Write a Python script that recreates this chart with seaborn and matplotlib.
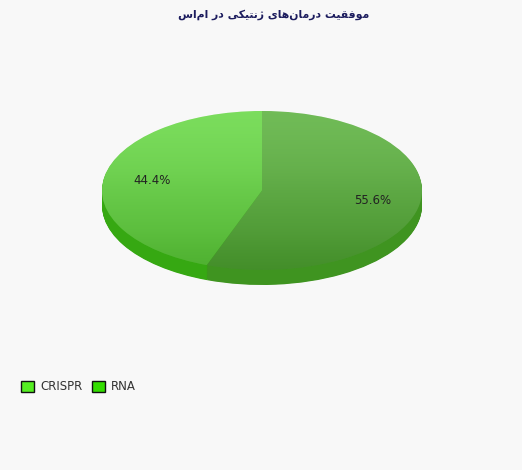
import numpy as np
import pandas as pd
import seaborn as sns
import matplotlib
matplotlib.use("Agg")
import matplotlib.pyplot as plt
from matplotlib.patches import Patch

# chart data
title = "موفقیت درمان‌های ژنتیکی در ام‌اس"
categories = ["RNA", "CRISPR"]
shares = [55.6, 44.4]
legend_order = ["CRISPR", "RNA"]

top_colors = {"RNA": "#52ad33", "CRISPR": "#5fd63a"}
side_colors = {"RNA": "#3f9420", "CRISPR": "#36a812"}
legend_colors = {"CRISPR": "#55ee22", "RNA": "#33dd00"}

df = pd.DataFrame({"category": categories, "share": shares})

# matplotlib has no arabic shaping, so pick presentation forms by hand
# (iso, fin, init, med); None = letter only joins to the right
FORMS = {
    "ا": ("\uFE8D", "\uFE8E", None, None),
    "ت": ("\uFE95", "\uFE96", "\uFE97", "\uFE98"),
    "د": ("\uFEA9", "\uFEAA", None, None),
    "ر": ("\uFEAD", "\uFEAE", None, None),
    "ژ": ("\uFB8A", "\uFB8B", None, None),
    "س": ("\uFEB1", "\uFEB2", "\uFEB3", "\uFEB4"),
    "ف": ("\uFED1", "\uFED2", "\uFED3", "\uFED4"),
    "ق": ("\uFED5", "\uFED6", "\uFED7", "\uFED8"),
    "ک": ("\uFB8E", "\uFB8F", "\uFB90", "\uFB91"),
    "م": ("\uFEE1", "\uFEE2", "\uFEE3", "\uFEE4"),
    "ن": ("\uFEE5", "\uFEE6", "\uFEE7", "\uFEE8"),
    "ه": ("\uFEE9", "\uFEEA", "\uFEEB", "\uFEEC"),
    "و": ("\uFEED", "\uFEEE", None, None),
    "ی": ("\uFBFC", "\uFBFD", "\uFBFE", "\uFBFF"),
}


def shape_rtl(text):
    out = []
    for i, ch in enumerate(text):
        if ch not in FORMS:
            if ch != "\u200c":
                out.append(ch)
            continue
        prev = text[i - 1] if i > 0 else ""
        nxt = text[i + 1] if i + 1 < len(text) else ""
        joins_prev = prev in FORMS and FORMS[prev][2] is not None
        joins_next = FORMS[ch][2] is not None and nxt in FORMS
        iso, fin, ini, med = FORMS[ch]
        if joins_prev and joins_next:
            out.append(med)
        elif joins_prev:
            out.append(fin)
        elif joins_next:
            out.append(ini)
        else:
            out.append(iso)
    return "".join(out[::-1])


sns.set_theme(style="white")
plt.rcParams["font.family"] = ["DejaVu Sans"]

bg = "#f8f8f8"
fig = plt.figure(figsize=(5.22, 4.70), dpi=100, facecolor=bg)

# pixel box of the pie (top face + side)
left_px, right_px, top_px, face_bottom_px, bottom_px = 102, 422, 111, 270, 285
W, H = 522, 470
ax = fig.add_axes([left_px / W, (H - bottom_px) / H,
                   (right_px - left_px) / W, (bottom_px - top_px) / H])
ax.set_facecolor(bg)
depth = (bottom_px - face_bottom_px) / ((face_bottom_px - top_px) / 2)

# side of the pie: stack of shifted pies
for t in np.linspace(depth, 0.01, 25):
    ax.pie(df["share"], colors=[side_colors[c] for c in df["category"]],
           startangle=90, counterclock=False, center=(0, -t),
           wedgeprops=dict(linewidth=0))

wedges, texts, autotexts = ax.pie(
    df["share"], colors=[top_colors[c] for c in df["category"]],
    startangle=90, counterclock=False, autopct="%1.1f%%", pctdistance=0.7,
    wedgeprops=dict(linewidth=0),
    textprops=dict(fontsize=8.5, color="#222222"))

# soft light-to-dark gradient over the top face
grad = np.linspace(1, 0, 256).reshape(-1, 1)
for w in wedges:
    im = ax.imshow(grad, extent=(-1, 1, -1, 1), cmap="Greys_r", alpha=0.18,
                   aspect="auto", zorder=w.get_zorder() + 0.1, vmin=0, vmax=1)
    im.set_clip_path(w)

ax.set_aspect("auto")
ax.set_xlim(-1, 1)
ax.set_ylim(-1 - depth, 1)
ax.axis("off")
for t in autotexts:
    t.set_zorder(10)

fig.text(0.525, 1 - 15 / H, shape_rtl(title), ha="center", va="center",
         fontsize=7.8, fontweight="bold", color="#1c1c5e")

handles = [Patch(facecolor=legend_colors[c], edgecolor="#111111", linewidth=1, label=c)
           for c in legend_order]
fig.legend(handles=handles, loc="center left", bbox_to_anchor=(10 / W, 1 - 387 / H),
           ncol=2, frameon=False, fontsize=8.5, handlelength=1.15, handleheight=1.15,
           handletextpad=0.5, columnspacing=0.8, labelcolor="#333333")

fig.savefig("out.png", dpi=100, facecolor=bg)
